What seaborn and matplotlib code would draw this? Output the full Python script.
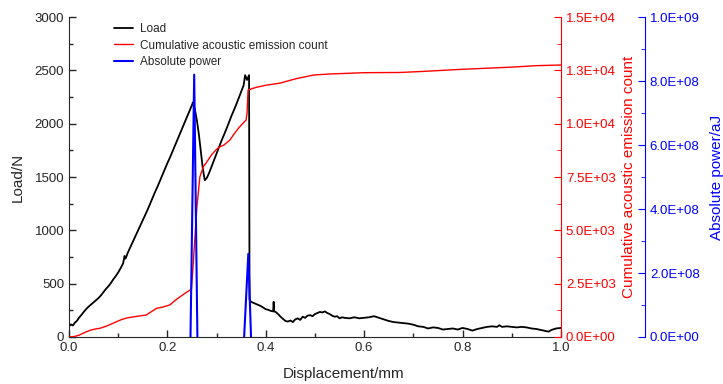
import matplotlib
matplotlib.use("Agg")
import matplotlib.pyplot as plt
import pandas as pd
import seaborn as sns
from matplotlib.lines import Line2D
from matplotlib.ticker import MultipleLocator, FixedLocator, FixedFormatter, FormatStrFormatter

# Load vs displacement
load_x = [0.000, 0.004, 0.008, 0.012, 0.016, 0.020, 0.025, 0.030, 0.035, 0.040,
          0.045, 0.050, 0.055, 0.060, 0.065, 0.070, 0.075, 0.080, 0.085, 0.090,
          0.095, 0.100, 0.105, 0.110, 0.113, 0.115, 0.120, 0.125, 0.130, 0.135,
          0.140, 0.145, 0.150, 0.155, 0.160, 0.165, 0.170, 0.175, 0.180, 0.185,
          0.190, 0.195, 0.200, 0.205, 0.210, 0.215, 0.220, 0.225, 0.230, 0.235,
          0.240, 0.245, 0.250, 0.252, 0.256, 0.260, 0.264, 0.268, 0.272, 0.276,
          0.280, 0.285, 0.290, 0.295, 0.300, 0.305, 0.310, 0.315, 0.320, 0.325,
          0.330, 0.335, 0.340, 0.345, 0.350, 0.355, 0.358, 0.362, 0.366, 0.367,
          0.370, 0.375, 0.380, 0.385, 0.390, 0.395, 0.400, 0.405, 0.410, 0.415,
          0.416, 0.417, 0.420, 0.425, 0.430, 0.435, 0.440, 0.445, 0.450, 0.455,
          0.460, 0.465, 0.470, 0.475, 0.480, 0.485, 0.490, 0.495, 0.500, 0.505,
          0.510, 0.515, 0.520, 0.525, 0.530, 0.535, 0.540, 0.545, 0.550, 0.555,
          0.560, 0.570, 0.580, 0.590, 0.600, 0.610, 0.620, 0.630, 0.640, 0.650,
          0.660, 0.670, 0.680, 0.690, 0.700, 0.710, 0.720, 0.730, 0.740, 0.750,
          0.760, 0.770, 0.780, 0.790, 0.800, 0.810, 0.820, 0.830, 0.840, 0.850,
          0.860, 0.870, 0.875, 0.880, 0.890, 0.900, 0.910, 0.920, 0.930, 0.940,
          0.950, 0.960, 0.970, 0.975, 0.980, 0.990, 1.000]
load_n = [100, 118, 108, 135, 150, 178, 205, 235, 262, 285,
          305, 325, 345, 365, 390, 420, 450, 475, 505, 540,
          570, 605, 645, 690, 760, 735, 795, 845, 895, 945,
          995, 1045, 1095, 1145, 1195, 1250, 1305, 1360, 1410, 1465,
          1520, 1575, 1630, 1680, 1735, 1790, 1845, 1900, 1955, 2010,
          2065, 2120, 2175, 2200, 2130, 2030, 1900, 1740, 1580, 1470,
          1490, 1540, 1600, 1660, 1720, 1780, 1840, 1895, 1950, 2010,
          2070, 2125, 2180, 2240, 2300, 2360, 2455, 2410, 2455, 350,
          330, 320, 310, 300, 290, 275, 260, 255, 245, 240,
          330, 240, 235, 215, 190, 170, 150, 145, 155, 140,
          165, 175, 160, 190, 180, 200, 205, 195, 215, 225,
          235, 230, 240, 225, 215, 200, 190, 195, 175, 185,
          180, 175, 185, 175, 180, 185, 195, 180, 165, 150,
          140, 135, 130, 125, 115, 100, 95, 80, 90, 85,
          70, 75, 80, 70, 85, 75, 60, 75, 85, 95,
          100, 95, 110, 95, 100, 95, 90, 95, 90, 80,
          75, 65, 55, 50, 65, 80, 85]

# Cumulative acoustic emission count
ae_x = [0.000, 0.010, 0.020, 0.030, 0.036, 0.045, 0.055, 0.063, 0.075, 0.085,
        0.097, 0.107, 0.117, 0.130, 0.145, 0.157, 0.165, 0.178, 0.190, 0.205,
        0.215, 0.226, 0.236, 0.246, 0.249, 0.253, 0.260, 0.266, 0.273, 0.280,
        0.290, 0.300, 0.307, 0.315, 0.327, 0.335, 0.345, 0.354, 0.360, 0.362,
        0.364, 0.380, 0.400, 0.429, 0.460, 0.497, 0.530, 0.565, 0.600, 0.673,
        0.720, 0.800, 0.900, 0.950, 1.000]
ae_count = [0, 20, 80, 190, 250, 330, 380, 410, 500, 600,
            720, 820, 890, 940, 990, 1030, 1150, 1344, 1400, 1500,
            1700, 1890, 2050, 2200, 2250, 3600, 6100, 7500, 7980, 8200,
            8550, 8800, 8920, 9000, 9230, 9500, 9800, 10030, 10170, 10500,
            11580, 11700, 11800, 11900, 12100, 12280, 12330, 12360, 12390, 12400,
            12450, 12550, 12650, 12720, 12750]

# Absolute power bursts
power_burst = [1, 1, 1, 2, 2, 2]
power_x = [0.247, 0.2545, 0.261, 0.356, 0.3645, 0.370]
power_aj = [0, 8.2e8, 0, 0, 2.6e8, 0]

ae_ticks = [0, 2500, 5000, 7500, 10000, 12500, 15000]
ae_tick_labels = ["0.0E+00", "2.5E+03", "5.0E+03", "7.5E+03", "1.0E+04", "1.3E+04", "1.5E+04"]

sns.set_style("ticks")
plt.rcParams["font.family"] = ["Liberation Sans", "DejaVu Sans"]

load_df = pd.DataFrame({"x": load_x, "load": load_n})
ae_df = pd.DataFrame({"x": ae_x, "count": ae_count})
power_df = pd.DataFrame({"burst": power_burst, "x": power_x, "power": power_aj})

fig = plt.figure(figsize=(7.23, 3.84), dpi=100)
ax = fig.add_axes([0.0954, 0.1224, 0.6805, 0.8333])
axr = ax.twinx()
axb = ax.twinx()

sns.lineplot(data=load_df, x="x", y="load", ax=ax, color="black", lw=1.3,
             sort=False, estimator=None, legend=False)
sns.lineplot(data=ae_df, x="x", y="count", ax=axr, color="red", lw=1.0,
             sort=False, estimator=None, legend=False)
sns.lineplot(data=power_df, x="x", y="power", units="burst", ax=axb, color="blue",
             lw=1.5, sort=False, estimator=None, legend=False)

# main axis
ax.set_xlim(0, 1)
ax.set_ylim(0, 3000)
ax.xaxis.set_major_locator(MultipleLocator(0.2))
ax.xaxis.set_minor_locator(MultipleLocator(0.1))
ax.xaxis.set_major_formatter(FormatStrFormatter("%.1f"))
ax.yaxis.set_major_locator(MultipleLocator(500))
ax.yaxis.set_minor_locator(MultipleLocator(250))
ax.tick_params(which="both", direction="in", labelsize=9.5, width=1)
ax.tick_params(which="major", length=5)
ax.tick_params(which="minor", length=3)
ax.spines[["top", "right"]].set_visible(False)
ax.set_xlabel("Displacement/mm", fontsize=11)
ax.set_ylabel("Load/N", fontsize=11)
ax.xaxis.set_label_coords(0.559, -0.095)
ax.yaxis.set_label_coords(-0.09, 0.5)

# acoustic emission count axis
axr.set_xlim(0, 1)
axr.set_ylim(0, 15000)
axr.yaxis.set_major_locator(FixedLocator(ae_ticks))
axr.yaxis.set_major_formatter(FixedFormatter(ae_tick_labels))
axr.yaxis.set_minor_locator(MultipleLocator(1250))
axr.spines[["top", "left", "bottom"]].set_visible(False)
axr.spines["right"].set_color("red")
axr.tick_params(axis="y", which="both", direction="in", colors="red", labelsize=9.5)
axr.tick_params(axis="y", which="major", length=5)
axr.tick_params(axis="y", which="minor", length=3)
axr.set_ylabel("Cumulative acoustic emission count", color="red", fontsize=11)
axr.yaxis.set_label_coords(1.124, 0.5)

# absolute power axis, spine pushed out to the right (84 px)
axb.set_xlim(0, 1)
axb.set_ylim(0, 1e9)
axb.spines["right"].set_position(("outward", 84 * 72 / 100))
axb.spines[["top", "left", "bottom"]].set_visible(False)
axb.spines["right"].set_color("blue")
axb.yaxis.set_major_locator(MultipleLocator(2e8))
axb.yaxis.set_minor_locator(MultipleLocator(1e8))
axb.yaxis.set_major_formatter(FormatStrFormatter("%.1E"))
axb.tick_params(axis="y", which="both", direction="in", colors="blue", labelsize=9.5)
axb.tick_params(axis="y", which="major", length=5)
axb.tick_params(axis="y", which="minor", length=3)
axb.set_ylabel("Absolute power/aJ", color="blue", fontsize=11)
axb.yaxis.set_label_coords(1.303, 0.5)

for a in (axr, axb):
    a.set_xlabel("")
    a.xaxis.set_visible(False)

handles = [Line2D([], [], color="black", lw=1.3),
           Line2D([], [], color="red", lw=1.0),
           Line2D([], [], color="blue", lw=1.5)]
labels = ["Load", "Cumulative acoustic emission count", "Absolute power"]
axb.legend(handles, labels, loc="upper left", bbox_to_anchor=(0.07, 1.015),
           frameon=False, fontsize=8.5, handlelength=1.6, handletextpad=0.6,
           labelspacing=0.4)

fig.savefig("out.png", dpi=100)
